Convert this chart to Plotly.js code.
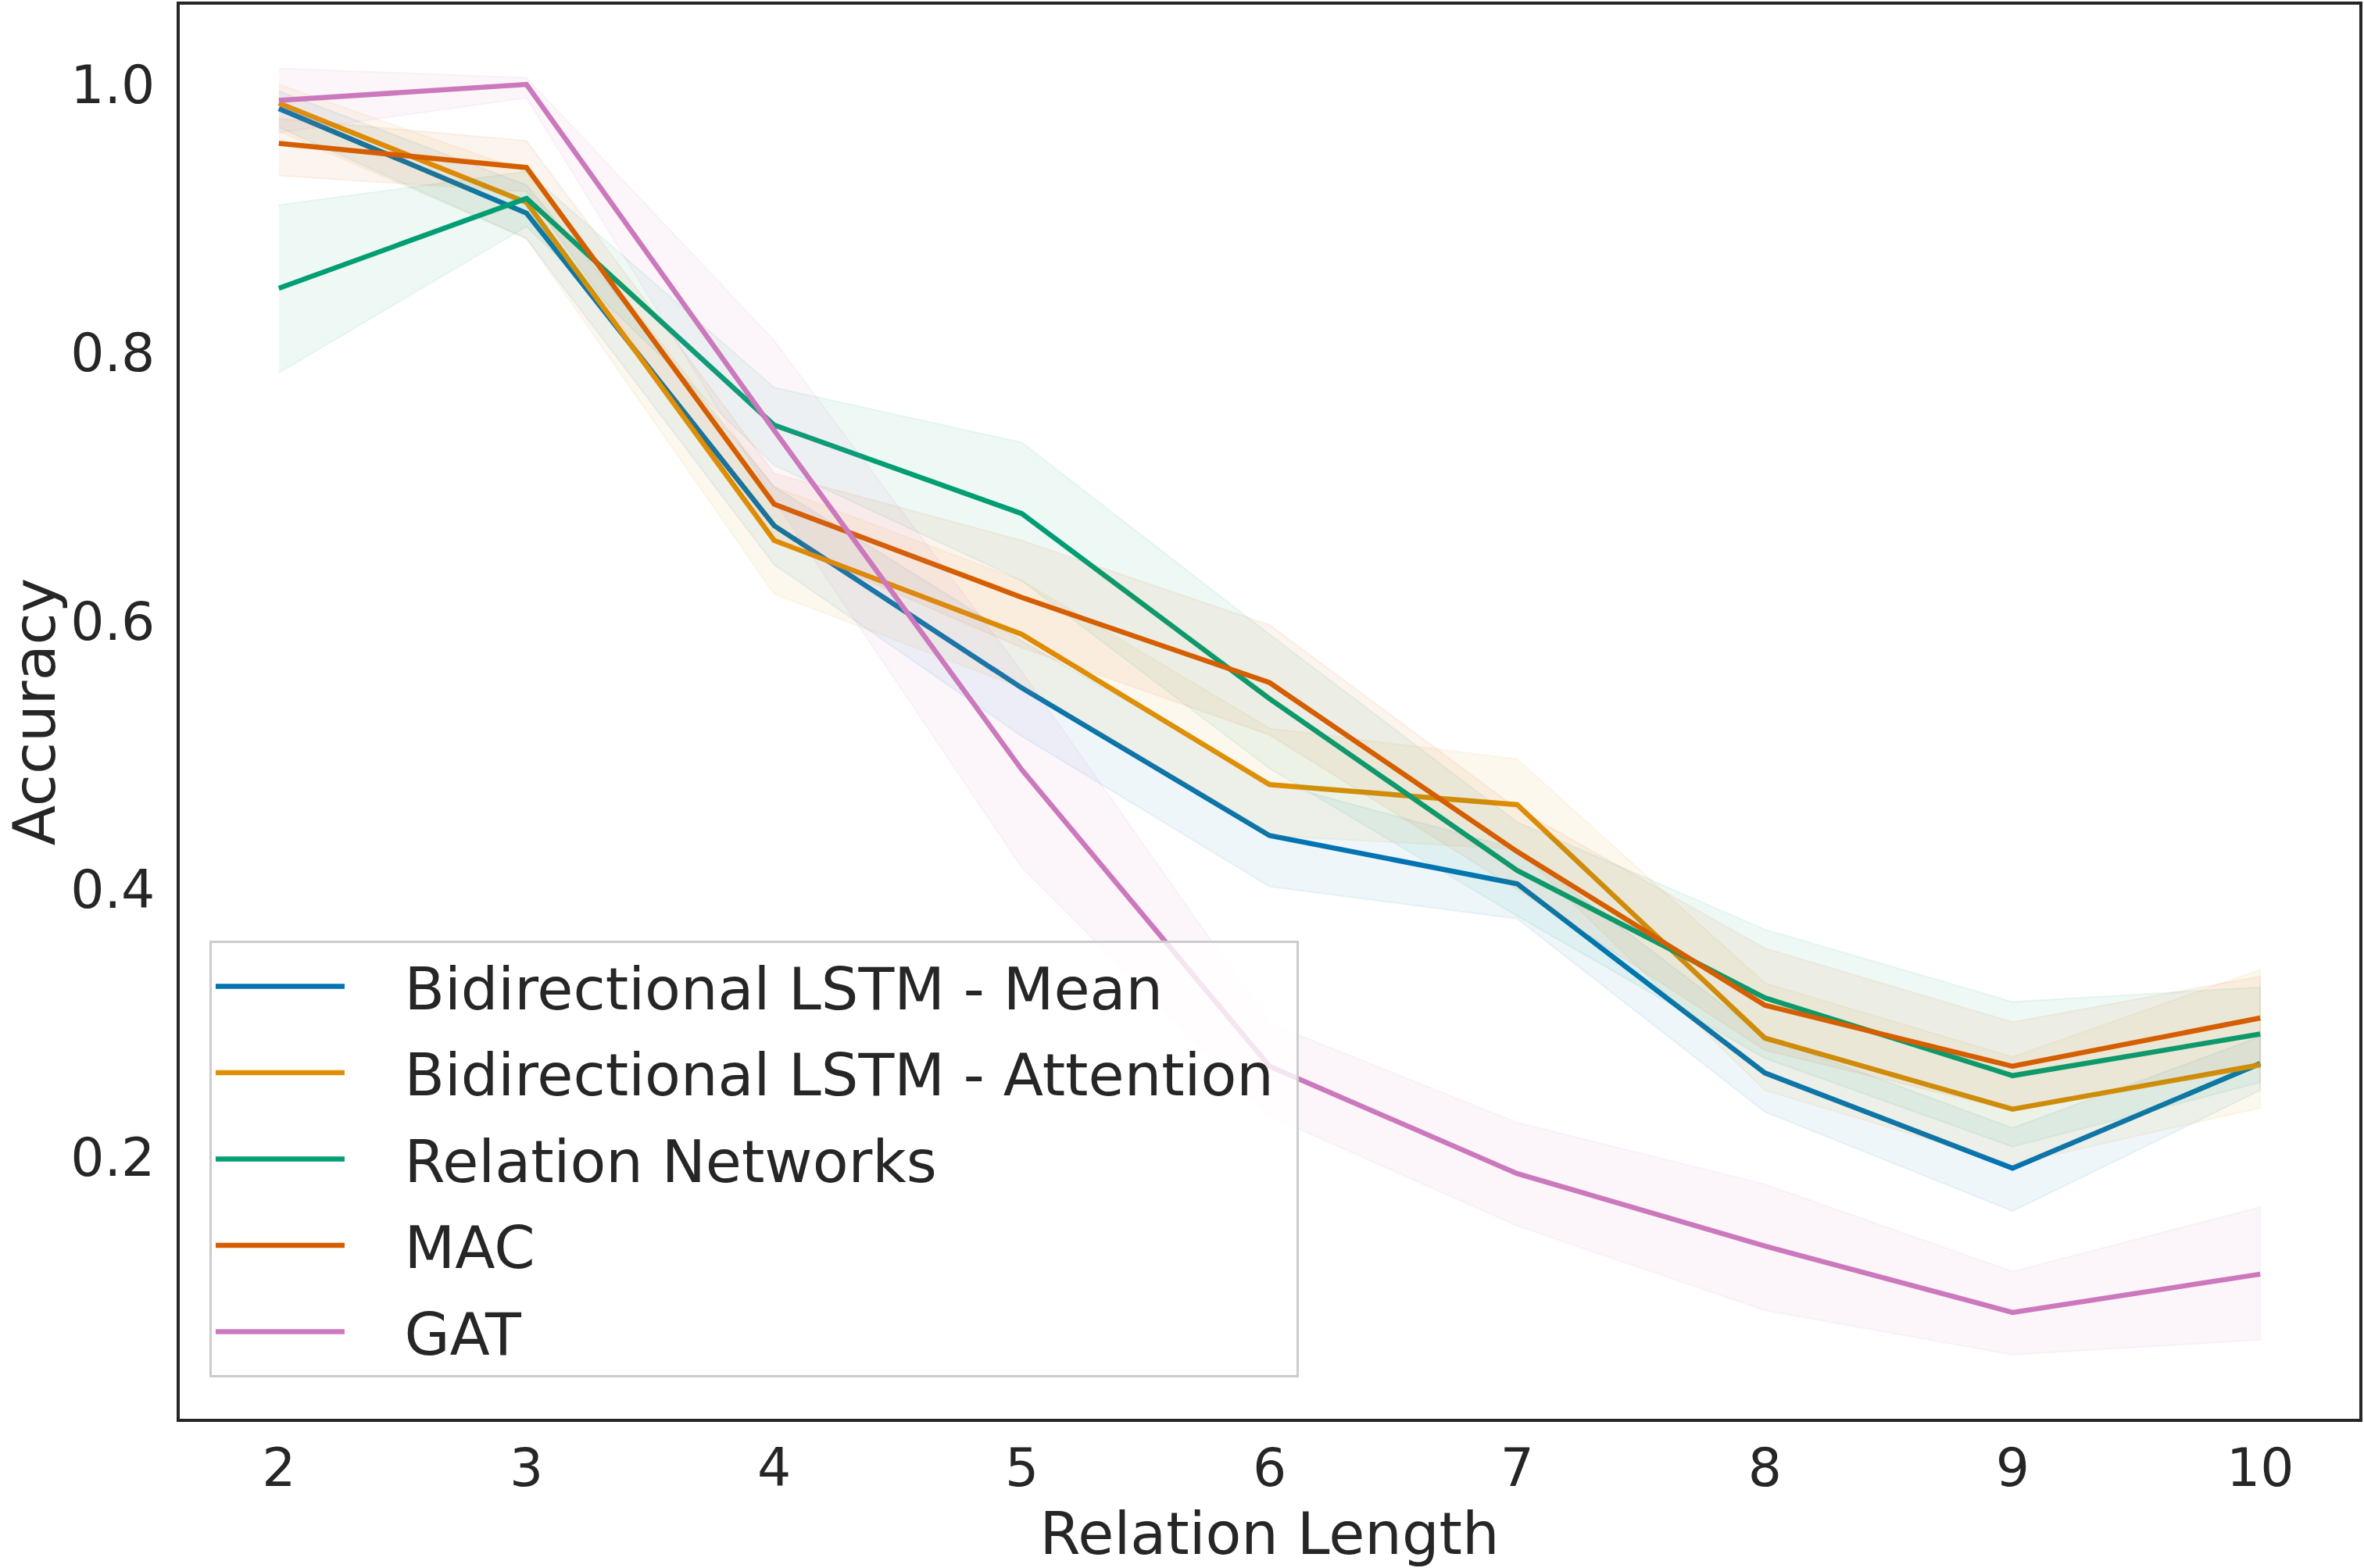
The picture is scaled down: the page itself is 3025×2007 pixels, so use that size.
<!DOCTYPE html>
<html>
<head>
<meta charset="utf-8">
<script src="https://cdn.plot.ly/plotly-3.0.1.min.js"></script>
<style>body{margin:0;background:#fff}</style>
</head>
<body>
<div id="chart" style="width:3025px;height:2007px"></div>
<script>
// relation length on x
var relLength = [2, 3, 4, 5, 6, 7, 8, 9, 10];

// mean accuracy + band (lo/hi) per model
var lstmMean   = [0.982, 0.904, 0.671, 0.550, 0.440, 0.404, 0.263, 0.192, 0.270];
var lstmMeanLo = [0.968, 0.885, 0.642, 0.514, 0.402, 0.378, 0.234, 0.160, 0.250];
var lstmMeanHi = [0.995, 0.925, 0.700, 0.585, 0.480, 0.430, 0.290, 0.222, 0.290];

var lstmAttn   = [0.986, 0.912, 0.660, 0.590, 0.478, 0.463, 0.289, 0.236, 0.269];
var lstmAttnLo = [0.965, 0.885, 0.620, 0.550, 0.440, 0.430, 0.250, 0.195, 0.237];
var lstmAttnHi = [1.000, 0.935, 0.700, 0.630, 0.520, 0.497, 0.330, 0.275, 0.340];

var relNet   = [0.848, 0.915, 0.746, 0.680, 0.542, 0.414, 0.319, 0.261, 0.292];
var relNetLo = [0.785, 0.894, 0.716, 0.630, 0.490, 0.380, 0.274, 0.208, 0.256];
var relNetHi = [0.910, 0.935, 0.774, 0.733, 0.590, 0.450, 0.370, 0.316, 0.327];

var mac   = [0.956, 0.938, 0.687, 0.6175, 0.554, 0.428, 0.3135, 0.268, 0.304];
var macLo = [0.932, 0.920, 0.660, 0.580, 0.515, 0.400, 0.280, 0.235, 0.270];
var macHi = [0.9745, 0.958, 0.710, 0.660, 0.597, 0.460, 0.356, 0.301, 0.335];

var gat   = [0.988, 1.000, 0.742, 0.489, 0.268, 0.188, 0.134, 0.0845, 0.113];
var gatLo = [0.964, 0.990, 0.690, 0.416, 0.231, 0.149, 0.086, 0.053, 0.064];
var gatHi = [1.012, 1.005, 0.809, 0.562, 0.300, 0.226, 0.180, 0.115, 0.163];

var names  = ["Bidirectional LSTM - Mean", "Bidirectional LSTM - Attention", "Relation Networks", "MAC", "GAT"];
var colors = ["#0173B2", "#DE8F05", "#029E73", "#D55E00", "#CC78BC"];
var means  = [lstmMean, lstmAttn, relNet, mac, gat];
var los    = [lstmMeanLo, lstmAttnLo, relNetLo, macLo, gatLo];
var his    = [lstmMeanHi, lstmAttnHi, relNetHi, macHi, gatHi];

function rgba(hex, a){
  var r = parseInt(hex.substr(1,2),16), g = parseInt(hex.substr(3,2),16), b = parseInt(hex.substr(5,2),16);
  return "rgba(" + r + "," + g + "," + b + "," + a + ")";
}

var data = [];
for (var k = 0; k < names.length; k++) {
  // band as closed polygon: upper left->right, lower right->left
  var bx = relLength.concat(relLength.slice().reverse());
  var by = his[k].concat(los[k].slice().reverse());
  data.push({x: bx, y: by, type: 'scatter', mode: 'lines', fill: 'toself',
    fillcolor: rgba(colors[k], 0.065), line: {color: rgba(colors[k], 0.07), width: 2},
    hoverinfo: 'skip', showlegend: false, legendgroup: 'g' + k});
  // nbsp pad so the legend text sits further from its key line, like the original
  data.push({x: relLength, y: means[k], type: 'scatter', mode: 'lines', name: '\u00a0\u00a0\u00a0' + names[k] + '\u00a0',
    line: {color: colors[k], width: 6.5}, legendgroup: 'g' + k});
}

var axisFont = {family: 'DejaVu Sans', size: 68, color: '#262626'};
var titleFont = {family: 'DejaVu Sans', size: 75, color: '#262626'};

var layout = {
  width: 3025, height: 2007,
  margin: {l: 230, r: 6, t: 6, b: 191, pad: 0},
  paper_bgcolor: '#ffffff', plot_bgcolor: '#ffffff',
  showlegend: true,
  xaxis: {range: [1.6, 10.4], tickvals: relLength, ticks: '', showgrid: false, zeroline: false,
    showline: true, mirror: true, linecolor: '#262626', linewidth: 4,
    tickfont: axisFont, ticklabelstandoff: 0,
    title: {text: 'Relation Length', font: titleFont, standoff: 34}},
  yaxis: {range: [0.0052, 1.0594], tickvals: [0.2, 0.4, 0.6, 0.8, 1.0], ticktext: ['0.2', '0.4', '0.6', '0.8', '1.0'],
    ticks: '', showgrid: false, zeroline: false,
    showline: true, mirror: true, linecolor: '#262626', linewidth: 4,
    tickfont: axisFont, ticklabelstandoff: 14,
    title: {text: 'Accuracy', font: titleFont, standoff: 30}},
  legend: {x: 0.0136, y: 0.338, xanchor: 'left', yanchor: 'top',
    bgcolor: 'rgba(255,255,255,0.8)', bordercolor: '#cccccc', borderwidth: 3,
    font: {family: 'DejaVu Sans', size: 75, color: '#262626'},
    itemwidth: 165, tracegroupgap: 10}
};

Plotly.newPlot('chart', data, layout, {staticPlot: true});
</script>
</body>
</html>
